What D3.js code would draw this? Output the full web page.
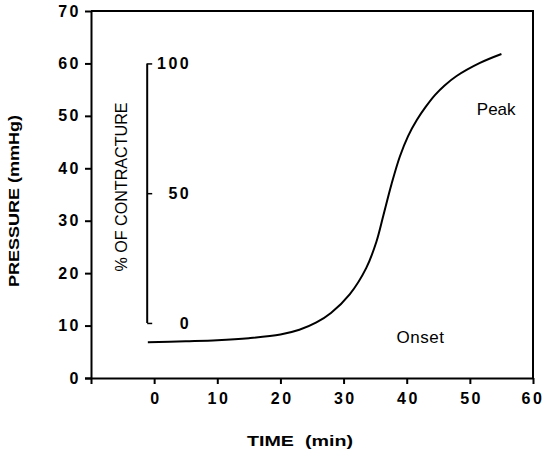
<!DOCTYPE html>
<html>
<head>
<meta charset="utf-8">
<script src="https://cdn.jsdelivr.net/npm/d3@7"></script>
<style>
  html, body { margin: 0; padding: 0; background: #fff; }
  svg { display: block; }
  text { font-family: "Liberation Sans", Arial, Helvetica, sans-serif; fill: #000; }
</style>
</head>
<body>
<svg id="chart" width="544" height="454"></svg>
<script>
// ---- data ----
const timeMin = [-1, 5, 10, 15, 20, 23, 25.7, 28, 31, 33.6, 35.2, 36.3, 37.6, 38.9, 40.2, 41.6, 43, 44.5, 46, 47.9, 51.6, 55];
const pressure = [6.8, 7.0, 7.2, 7.6, 8.3, 9.2, 10.6, 12.4, 16.0, 21.0, 26.0, 31.0, 37.0, 42.2, 46.1, 49.2, 51.7, 54.0, 55.8, 57.6, 60.1, 61.8];
const xTicks = [0, 10, 20, 30, 40, 50, 60];
const yTicks = [0, 10, 20, 30, 40, 50, 60, 70];
const contractureTicks = [0, 50, 100];
const annotations = ["Peak", "Onset"];

const svg = d3.select("#chart");
const x = d3.scaleLinear().domain([-10, 60]).range([91, 533]);
const y = d3.scaleLinear().domain([0, 70]).range([378, 11]);
// % of contracture scale mapped onto pressure 10.5 .. 60
const yc = d3.scaleLinear().domain([0, 100]).range([y(10.5), y(60)]);

// frame (top and right)
svg.append("path")
  .attr("d", `M${x(-10)},${y(70)} H${x(60)} V${y(0)}`)
  .attr("fill", "none").attr("stroke", "#000").attr("stroke-width", 2);

const tickFont = sel => sel
  .style("font-size", "16px").style("font-weight", "bold")
  .style("letter-spacing", "2.5px")
  .attr("font-family", null);

// x axis
const gx = svg.append("g").attr("transform", `translate(0,${y(0)})`)
  .call(d3.axisBottom(x).tickValues(xTicks).tickSize(6).tickPadding(9).tickFormat(d3.format("d")));
gx.select(".domain").attr("stroke-width", 2).attr("d", `M${x(-10) - 6},0.5H${x(60)}`);
gx.selectAll(".tick line").attr("stroke-width", 2);
gx.selectAll(".tick text").call(tickFont).attr("dx", "1.2px");
gx.selectAll(".tick").filter(d => d === 60).select("text").attr("dx", "-0.5px");

// y axis
const gy = svg.append("g").attr("transform", `translate(${x(-10)},0)`)
  .call(d3.axisLeft(y).tickValues(yTicks).tickSize(6).tickPadding(10).tickFormat(d3.format("d")));
gy.select(".domain").attr("stroke-width", 2).attr("d", `M0.5,${y(70)}V${y(0) + 6}`);
gy.selectAll(".tick line").attr("stroke-width", 2);
gy.selectAll(".tick text").call(tickFont).attr("x", -10);

// axis titles
svg.append("text")
  .attr("transform", `translate(19,201) rotate(-90)`)
  .attr("text-anchor", "middle")
  .attr("textLength", 172).attr("lengthAdjust", "spacingAndGlyphs")
  .style("font-size", "14px").style("font-weight", "bold")
  .text("PRESSURE  (mmHg)");

svg.append("text")
  .attr("x", 300).attr("y", 446)
  .attr("text-anchor", "middle")
  .attr("textLength", 106).attr("lengthAdjust", "spacingAndGlyphs")
  .style("font-size", "15px").style("font-weight", "bold")
  .attr("xml:space", "preserve")
  .text("TIME  (min)");

// inner % of contracture axis
const innerX = x(-1.1);
const gc = svg.append("g").attr("transform", `translate(${innerX},0)`)
  .call(d3.axisRight(yc).tickValues(contractureTicks).tickSize(5).tickPadding(0).tickFormat(d3.format("d")));
gc.select(".domain").attr("stroke-width", 2).attr("d", `M0,${yc(0)}V${yc(100)}`);
gc.selectAll(".tick line").attr("stroke-width", 1.5);
gc.selectAll(".tick text").call(tickFont)
  .attr("x", 44).attr("text-anchor", "end");

svg.append("text")
  .attr("transform", `translate(127,187) rotate(-90)`)
  .attr("text-anchor", "middle")
  .attr("textLength", 169).attr("lengthAdjust", "spacingAndGlyphs")
  .style("font-size", "16px")
  .text("% OF CONTRACTURE");

// curve
const data = timeMin.map((t, i) => ({ t, p: pressure[i] }));
svg.append("path")
  .datum(data)
  .attr("fill", "none").attr("stroke", "#000").attr("stroke-width", 2)
  .attr("d", d3.line().x(d => x(d.t)).y(d => y(d.p)).curve(d3.curveCatmullRom.alpha(0.5)));

// annotations
svg.append("text").attr("x", x(51.1)).attr("y", y(50.2))
  .style("font-size", "17px").text(annotations[0]);
svg.append("text").attr("x", x(38.4)).attr("y", y(6.7))
  .style("font-size", "17px").style("letter-spacing", "0.5px").text(annotations[1]);
</script>
</body>
</html>
